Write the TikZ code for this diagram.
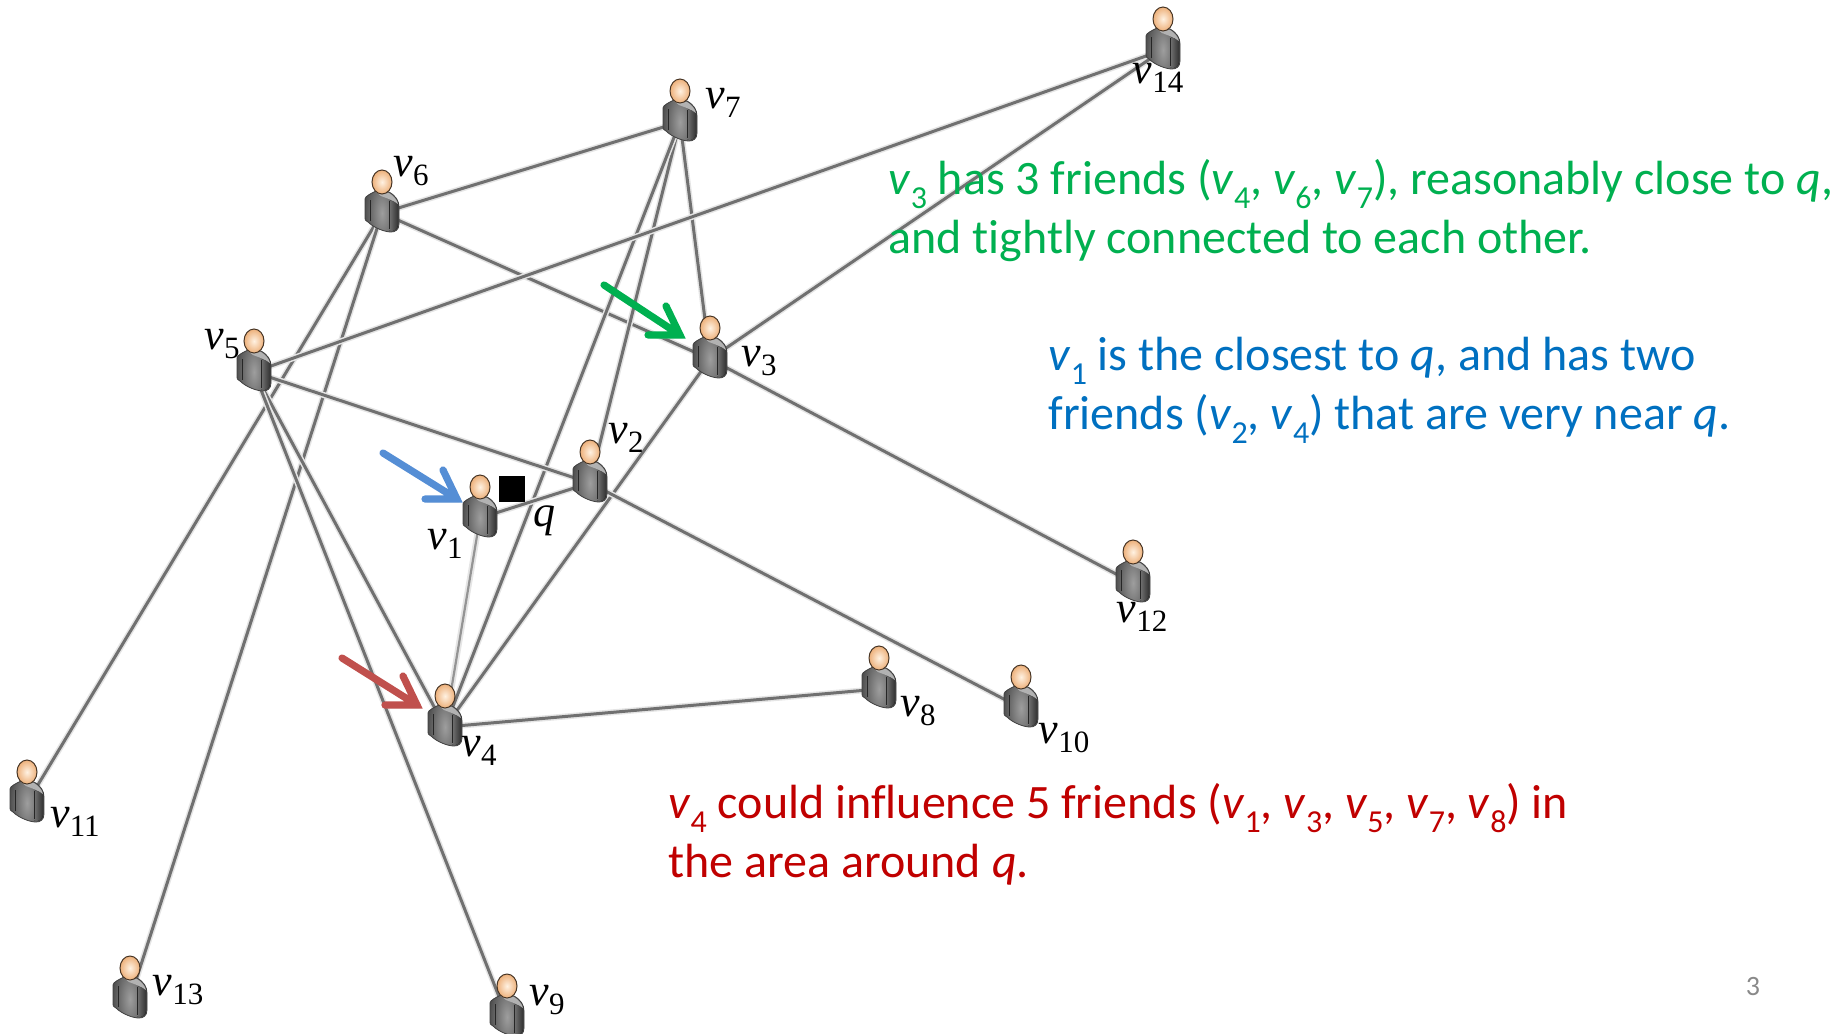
\documentclass[tikz,border=0pt]{standalone}
\usepackage{fontspec}
\setmainfont[Ligatures=NoCommon]{Carlito}
\newfontfamily\labelfont{Liberation Serif}
\usepackage{xcolor}
\definecolor{friendGreen}{HTML}{00B050}
\definecolor{friendBlue}{HTML}{0070C0}
\definecolor{friendRed}{HTML}{C00000}
\definecolor{arrowBlue}{HTML}{558ED5}
\definecolor{arrowRed}{HTML}{C0504D}
\definecolor{edgeGray}{HTML}{707070}
\definecolor{pageGray}{HTML}{898989}
\definecolor{skinLight}{HTML}{FFF2E2}
\definecolor{skinDark}{HTML}{EDB07A}
\usetikzlibrary{
    backgrounds
}
\newcommand{\vname}[1]{\textit{v}\raisebox{-0.2em}{\fontsize{15.5}{15.5}\selectfont #1}}
\newcommand{\vtext}[1]{\textit{v}\raisebox{-0.3em}{\fontsize{16}{16}\selectfont #1}}
\tikzset{
    % Person icon, drawn inside its node; the node centre is on the body
    person/.style={
        rectangle,
        inner sep=0pt,
        minimum width=19pt,
        minimum height=46pt,
        path picture={
            \draw[black!75, line width=0.4pt, inner color=black!38, outer color=black!72]
                (-6,-22) -- (7,-21) .. controls (14,-17) and (17,-12) .. (17,-6) -- (17,11)
                .. controls (17,17) and (13,19) .. (9,19)
                .. controls (3,19) and (-8,15) .. (-14,9)
                .. controls (-17,7) .. (-17,5) -- (-17,-14)
                .. controls (-17,-17) and (-10,-20) .. cycle;
            % sleeve
            \fill[left color=black!55, right color=black!80]
                (7,-13) -- (16,-10) -- (16,11) .. controls (16,16) and (13,18) .. (9,18) -- (7,17) -- cycle;
            % shoulder
            \fill[black!30]
                (-6,-21) -- (7,-20) .. controls (12,-17) and (15,-13) .. (16,-9)
                .. controls (11,-13) and (4,-15) .. (-1,-17) -- cycle;
            \draw[black!85, line width=0.4pt] (-12,-13) -- (-12,8);
            \draw[black!85, line width=0.4pt] (7,-12) -- (7,16);
            % head
            \draw[black!70!skinDark, line width=0.5pt, inner color=skinLight, outer color=skinDark]
                (0,-31) ellipse [x radius=10, y radius=12];
        },
    },
    % Italic names of the people
    vlabel/.style={
        font=\labelfont\fontsize{22}{22}\selectfont,
        inner sep=0pt,
    },
    % Friendship links
    link/.style={
        draw=edgeGray,
        line width=1.5pt,
        preaction={draw=black!10, line width=3pt},
    },
    link light/.style={
        link,
        draw=black!42,
        line width=1.1pt,
    },
    % Thick pointer arrows, shaft and two barbs
    pointer/.style={
        line width=3.6pt,
        line cap=round,
        preaction={draw=black!15, transform canvas={shift={(1pt,-1.5pt)}}},
    },
    % Explanation text, placed by its last line
    note/.style={
        font=\fontsize{24}{29.5}\selectfont,
        align=left,
        inner sep=0pt,
        anchor=base west,
    },
}
\begin{document}
\begin{tikzpicture}[x=0.5pt, y=-0.5pt]
    \useasboundingbox (0,0) rectangle (1845,1033);

    \node (v1) [person] at (480,518) {};
    \node (v2) [person] at (590,483) {};
    \node (v3) [person] at (710,359) {};
    \node (v4) [person] at (445,727) {};
    \node (v5) [person] at (254,372) {};
    \node (v6) [person] at (382,213) {};
    \node (v7) [person] at (680,122) {};
    \node (v8) [person] at (879,689) {};
    \node (v9) [person] at (507,1017) {};
    \node (v10) [person] at (1021,708) {};
    \node (v11) [person] at (27,803) {};
    \node (v12) [person] at (1133,583) {};
    \node (v13) [person] at (130,999) {};
    \node (v14) [person] at (1163,50) {};

    \node (lab1) [vlabel] at (445,544) {\vname{1}};
    \node (lab2) [vlabel] at (626,438) {\vname{2}};
    \node (lab3) [vlabel] at (759,361) {\vname{3}};
    \node (lab4) [vlabel] at (479,751) {\vname{4}};
    \node (lab5) [vlabel] at (222,344) {\vname{5}};
    \node (lab6) [vlabel] at (411,171) {\vname{6}};
    \node (lab7) [vlabel] at (723,103) {\vname{7}};
    \node (lab8) [vlabel] at (918,711) {\vname{8}};
    \node (lab9) [vlabel] at (547,1000) {\vname{9}};
    \node (lab10) [vlabel] at (1064,738) {\vname{10}};
    \node (lab11) [vlabel] at (75,822) {\vname{11}};
    \node (lab12) [vlabel] at (1142,617) {\vname{12}};
    \node (lab13) [vlabel] at (178,990) {\vname{13}};
    \node (lab14) [vlabel] at (1158,78) {\vname{14}};

    \node (query) [fill=black, minimum size=13pt, inner sep=0pt] at (512,489) {};
    \node (labq) [vlabel] at (544,521) {\textit{q}};

    \begin{scope}[on background layer]
        \draw [link] (v6.center) -- (v7.center);
        \draw [link] (v6.center) -- (v3.center);
        \draw [link] (v6.center) -- (v11.center);
        \draw [link] (v6.center) -- (v13.center);
        \draw [link] (v7.center) -- (v3.center);
        \draw [link] (v7.center) -- (v2.center);
        \draw [link] (v7.center) -- (v4.center);
        \draw [link] (v5.center) -- (v14.center);
        \draw [link] (v5.center) -- (v2.center);
        \draw [link] (v5.center) -- (v4.center);
        \draw [link] (v5.center) -- (v9.center);
        \draw [link] (v3.center) -- (v14.center);
        \draw [link] (v3.center) -- (v12.center);
        \draw [link] (v3.center) -- (v4.center);
        \draw [link] (v2.center) -- (v10.center);
        \draw [link] (v2.center) -- (v1.center);
        \draw [link] (v4.center) -- (v8.center);
        \draw [link light] (v1.center) -- (v4.center);
    \end{scope}

    \coordinate (greenTail) at (604,285);
    \coordinate (greenTip) at (680,335);
    \coordinate (blueTail) at (383,453);
    \coordinate (blueTip) at (457,499);
    \coordinate (redTail) at (342,658);
    \coordinate (redTip) at (417,705);
    \draw [pointer, friendGreen] (greenTail) -- (greenTip) ++(-32,0) -- (greenTip) -- ++(-14,-29);
    \draw [pointer, arrowBlue] (blueTail) -- (blueTip) ++(-32,0) -- (blueTip) -- ++(-14,-29);
    \draw [pointer, arrowRed] (redTail) -- (redTip) ++(-32,0) -- (redTip) -- ++(-14,-29);

    \node (noteGreen) [note, text=friendGreen] at (888,253) {\vtext{3} has 3 friends (\vtext{4}, \vtext{6}, \vtext{7}), reasonably close to \textit{q},\\and tightly connected to each other.};
    \node (noteBlue) [note, text=friendBlue] at (1048,429) {\vtext{1} is the closest to \textit{q}, and has two\\friends (\vtext{2}, \vtext{4}) that are very near \textit{q}.};
    \node (noteRed) [note, text=friendRed] at (668,877) {\vtext{4} could influence 5 friends (\vtext{1}, \vtext{3}, \vtext{5}, \vtext{7}, \vtext{8}) in\\the area around \textit{q}.};
    \node (pageNum) [font=\fontsize{14}{14}\selectfont, text=pageGray, inner sep=0pt] at (1753,986) {3};
\end{tikzpicture}
\end{document}
